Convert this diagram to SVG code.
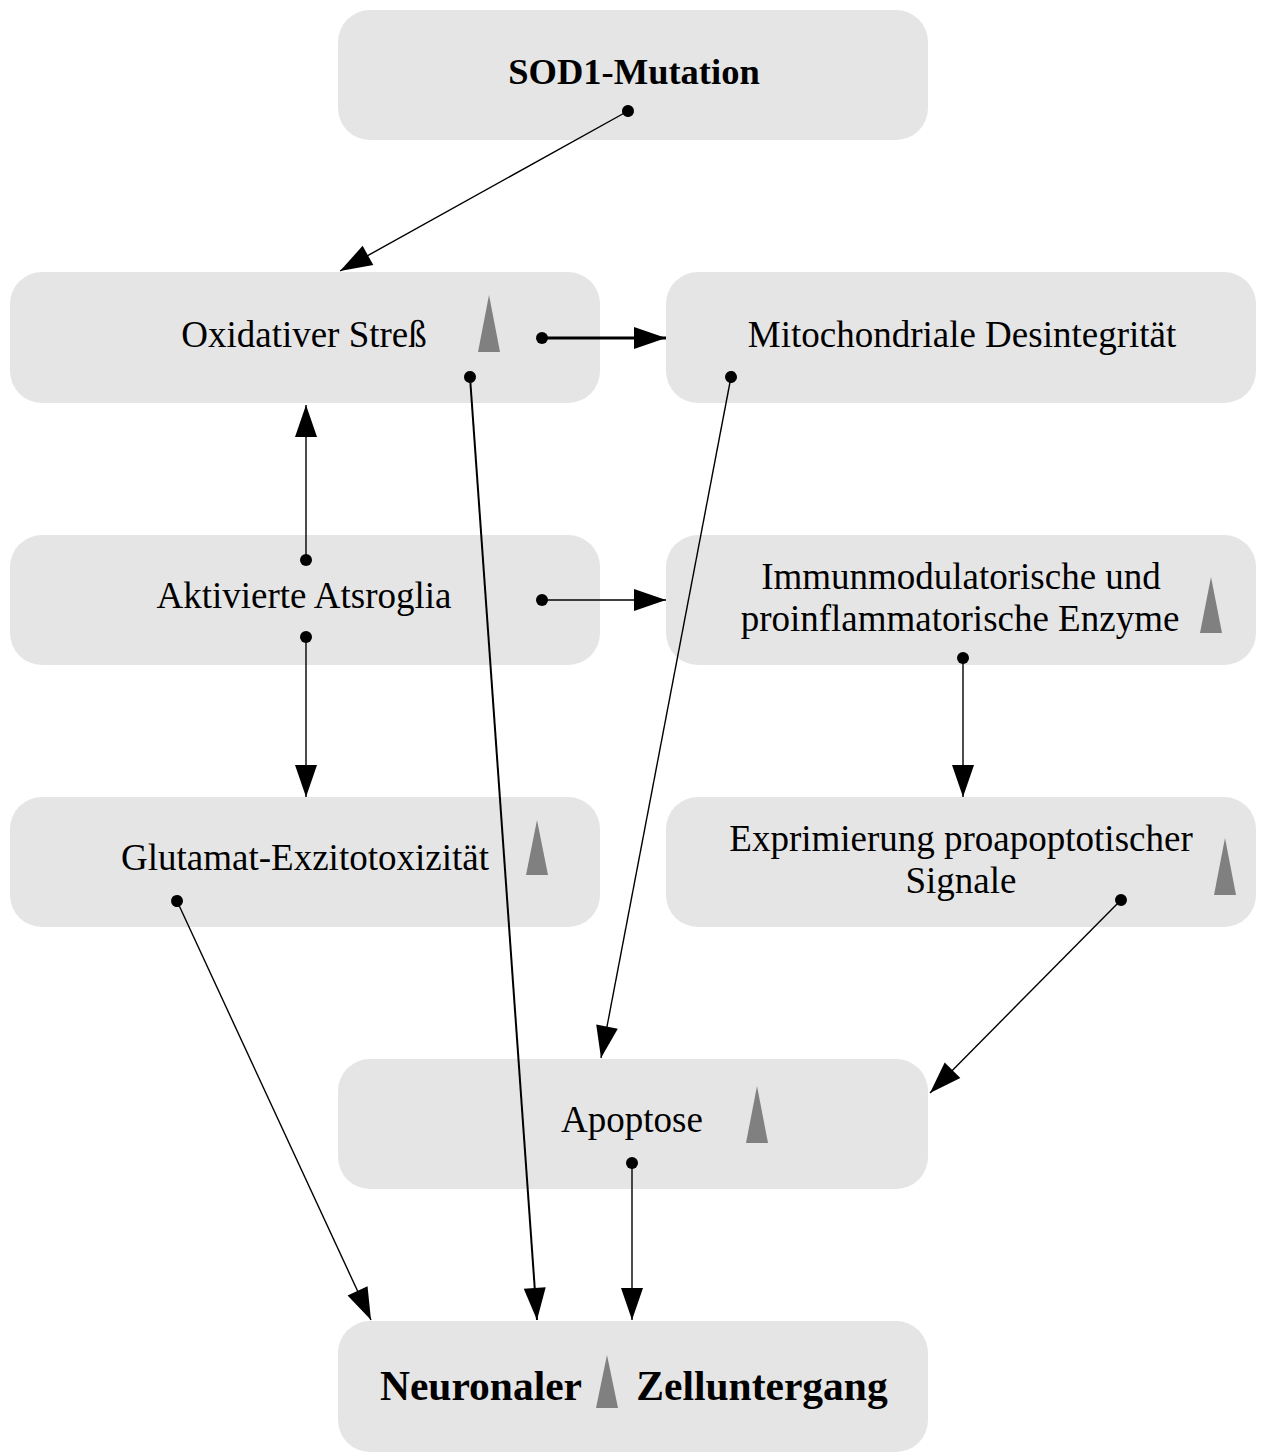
<svg xmlns="http://www.w3.org/2000/svg" width="1262" height="1454" viewBox="0 0 1262 1454">
<defs>
<style>
.box{fill:#e5e5e5;stroke:none}
.t{font-family:"Liberation Serif","Times New Roman",serif;font-size:37px;fill:#000;text-anchor:middle}
.b{font-weight:bold}
.tri{fill:#808080}
.c{stroke:#000;stroke-width:1.4;fill:none;marker-start:url(#dot);marker-end:url(#arr)}
.thick{stroke-width:3}
.mid{stroke-width:2}
</style>
<marker id="arr" markerUnits="userSpaceOnUse" markerWidth="34" markerHeight="24" refX="32" refY="11" orient="auto" overflow="visible">
<path d="M0,0 L32,11 L0,22 Z" fill="#000"/>
</marker>
<marker id="dot" markerUnits="userSpaceOnUse" markerWidth="14" markerHeight="14" refX="7" refY="7" orient="auto" overflow="visible">
<circle cx="7" cy="7" r="6" fill="#000"/>
</marker>
</defs>
<rect width="1262" height="1454" fill="#fff"/>

<g id="sod1">
<rect class="box" x="338" y="10" width="590" height="130" rx="32"/>
<text class="t b" x="634" y="84" style="font-size:36.5px">SOD1-Mutation</text>
</g>
<g id="oxidativ">
<rect class="box" x="10" y="272" width="590" height="131" rx="32"/>
<text class="t" x="304" y="347">Oxidativer Streß</text>
<polygon class="tri" points="489,295 500,352 478,352"/>
</g>
<g id="mito">
<rect class="box" x="666" y="272" width="590" height="131" rx="32"/>
<text class="t" x="962" y="347">Mitochondriale Desintegrität</text>
</g>
<g id="astroglia">
<rect class="box" x="10" y="535" width="590" height="130" rx="32"/>
<text class="t" x="304" y="608">Aktivierte Atsroglia</text>
</g>
<g id="immun">
<rect class="box" x="666" y="535" width="590" height="130" rx="32"/>
<text class="t" x="961" y="589">Immunmodulatorische und</text>
<text class="t" x="960" y="631">proinflammatorische Enzyme</text>
<polygon class="tri" points="1211,577 1222,633 1200,633"/>
</g>
<g id="glutamat">
<rect class="box" x="10" y="797" width="590" height="130" rx="32"/>
<text class="t" x="305" y="870">Glutamat-Exzitotoxizität</text>
<polygon class="tri" points="537,820 548,875 526,875"/>
</g>
<g id="expr">
<rect class="box" x="666" y="797" width="590" height="130" rx="32"/>
<text class="t" x="961" y="851">Exprimierung proapoptotischer</text>
<text class="t" x="961" y="893">Signale</text>
<polygon class="tri" points="1225,838 1236,895 1214,895"/>
</g>
<g id="apoptose">
<rect class="box" x="338" y="1059" width="590" height="130" rx="32"/>
<text class="t" x="632" y="1132">Apoptose</text>
<polygon class="tri" points="757,1086 768,1143 746,1143"/>
</g>
<g id="zelltod">
<rect class="box" x="338" y="1321" width="590" height="131" rx="32"/>
<text class="t b" x="481" y="1400" style="font-size:41.5px">Neuronaler</text>
<text class="t b" x="762" y="1400" style="font-size:41.5px">Zelluntergang</text>
<polygon class="tri" points="607,1355 618,1408 596,1408"/>
</g>

<g id="connectors">
<line class="c" x1="628" y1="111" x2="340" y2="271"/>
<line class="c thick" x1="542" y1="338" x2="666" y2="338"/>
<line class="c" x1="306" y1="560" x2="306" y2="405"/>
<line class="c" x1="306" y1="637" x2="306" y2="797"/>
<line class="c" x1="542" y1="600" x2="666" y2="600"/>
<line class="c mid" x1="470" y1="377" x2="537" y2="1320"/>
<line class="c" x1="731" y1="377" x2="601" y2="1058"/>
<line class="c" x1="963" y1="658" x2="963" y2="797"/>
<line class="c" x1="1121" y1="900" x2="930" y2="1093"/>
<line class="c" x1="177" y1="901" x2="371" y2="1320"/>
<line class="c" x1="632" y1="1163" x2="632" y2="1320"/>
</g>
</svg>
